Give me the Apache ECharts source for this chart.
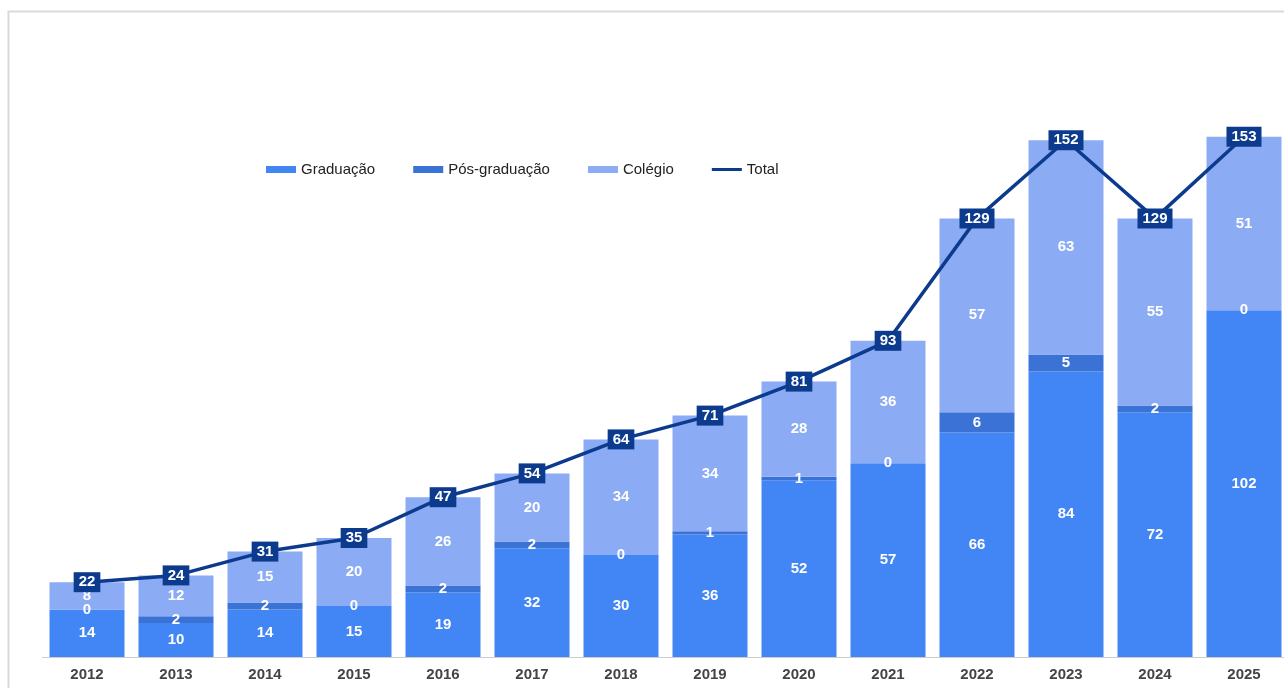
<!DOCTYPE html>
<html>
<head>
<meta charset="utf-8">
<script src="https://cdn.jsdelivr.net/npm/echarts@6/dist/echarts.min.js"></script>
<style>
  html, body { margin: 0; padding: 0; background: #fff; overflow: hidden; }
  #chart { width: 1290px; height: 688px; }
</style>
</head>
<body>
<div id="chart"></div>
<script>
  // dados por ano
  var anos = ["2012", "2013", "2014", "2015", "2016", "2017", "2018", "2019", "2020", "2021", "2022", "2023", "2024", "2025"];
  var graduacao = [14, 10, 14, 15, 19, 32, 30, 36, 52, 57, 66, 84, 72, 102];
  var posGraduacao = [0, 2, 2, 0, 2, 2, 0, 1, 1, 0, 6, 5, 2, 0];
  var colegio = [8, 12, 15, 20, 26, 20, 34, 34, 28, 36, 57, 63, 55, 51];
  var total = [22, 24, 31, 35, 47, 54, 64, 71, 81, 93, 129, 152, 129, 153];

  var FONT = "Liberation Sans, Arial, sans-serif";
  var barLabel = {
    show: true,
    position: "inside",
    color: "#fff",
    fontSize: 15,
    fontWeight: "bold",
    fontFamily: FONT
  };

  var chart = echarts.init(document.getElementById("chart"));

  var option = {
    animation: false,
    color: ["#4285f4", "#3a72d6", "#8cabf5", "#0c3b8e"],
    textStyle: { fontFamily: FONT },
    graphic: [
      {
        type: "rect",
        z: -10,
        shape: { x: 8.5, y: 11.5, width: 1400, height: 800 },
        style: { fill: "none", stroke: "#dadada", lineWidth: 2 }
      }
    ],
    legend: {
      left: 261,
      top: 157,
      itemWidth: 30,
      itemHeight: 7,
      itemGap: 38,
      textStyle: { fontSize: 15, color: "#222", fontFamily: FONT },
      data: [
        { name: "Graduação", icon: "rect" },
        { name: "Pós-graduação", icon: "rect" },
        { name: "Colégio", icon: "rect" },
        { name: "Total", icon: "path://M0,0 L30,0 L30,3 L0,3 Z" }
      ]
    },
    grid: { left: 42.5, right: 1.5, top: 45, bottom: 31 },
    xAxis: {
      type: "category",
      data: anos,
      axisLine: { lineStyle: { color: "#cccccc", width: 1 } },
      axisTick: { show: false },
      axisLabel: {
        color: "#444",
        fontSize: 15,
        fontWeight: "bold",
        fontFamily: FONT,
        margin: 10
      }
    },
    yAxis: {
      type: "value",
      min: 0,
      max: 180,
      show: false,
      splitLine: { show: false }
    },
    series: [
      {
        name: "Graduação",
        type: "bar",
        stack: "a",
        barWidth: 75,
        label: barLabel,
        data: graduacao
      },
      {
        name: "Pós-graduação",
        type: "bar",
        stack: "a",
        barWidth: 75,
        label: barLabel,
        data: posGraduacao
      },
      {
        name: "Colégio",
        type: "bar",
        stack: "a",
        barWidth: 75,
        label: barLabel,
        data: colegio
      },
      {
        name: "Total",
        type: "line",
        symbol: "circle",
        symbolSize: 1,
        z: 10,
        lineStyle: { width: 3.5, color: "#0c3b8e" },
        itemStyle: { color: "#0c3b8e" },
        label: {
          show: true,
          position: "inside",
          color: "#fff",
          fontSize: 15,
          fontWeight: "bold",
          fontFamily: FONT,
          backgroundColor: "#0c3b8e",
          padding: [3, 5, 2, 5]
        },
        data: total
      }
    ]
  };

  chart.setOption(option);
</script>
</body>
</html>
